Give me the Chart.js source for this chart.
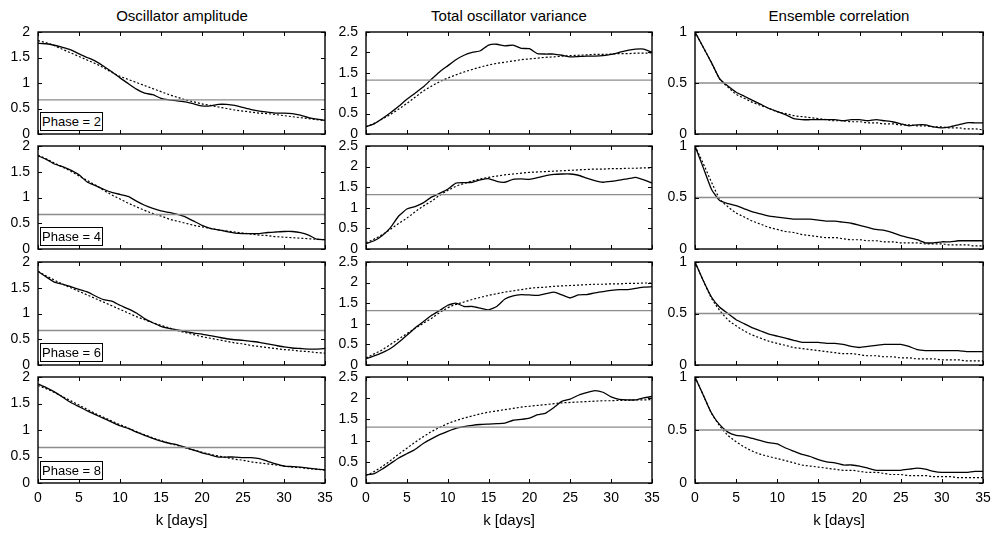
<!DOCTYPE html>
<html lang="en">
<head>
<meta charset="UTF-8">
<title>Oscillator statistics vs lag</title>
<script src="https://cdn.jsdelivr.net/npm/chart.js"></script>
<style>
  body { margin: 0; background: #fff; font-family: 'Liberation Sans', Arial, sans-serif; color: #000; }
  #page { position: relative; width: 1003px; height: 533px; overflow: hidden; }
  .panel { position: absolute; }
  .col-title { position: absolute; top: 7px; font-size: 15px; line-height: 18px; transform: translateX(-50%); white-space: nowrap; }
  .phase { position: absolute; width: 61px; height: 17px; border: 1px solid #000; background: #fff;
           font-size: 13px; line-height: 17px; text-align: center; z-index: 2; white-space: nowrap; }
</style>
</head>
<body>
<div id="page">
  <div class="col-title" style="left:182px">Oscillator amplitude</div>
  <div class="col-title" style="left:509px">Total oscillator variance</div>
  <div class="col-title" style="left:839px">Ensemble correlation</div>
</div>
<script>
// lag in days
const days = [0,1,2,3,4,5,6,7,8,9,10,11,12,13,14,15,16,17,18,19,20,21,22,23,24,25,26,27,28,29,30,31,32,33,34,35];
const phases = [2, 4, 6, 8];
const refLevels = [0.67, 1.32, 0.5];
const axisMax = [2, 2.5, 1];

// oscillator amplitude (solid = ensemble, dotted = model)
const ampSim2   = [1.78,1.77,1.74,1.70,1.65,1.57,1.50,1.43,1.33,1.22,1.10,0.99,0.88,0.80,0.77,0.70,0.67,0.65,0.63,0.59,0.55,0.55,0.58,0.58,0.56,0.52,0.48,0.45,0.43,0.41,0.41,0.40,0.37,0.32,0.29,0.27];
const ampModel2 = [1.83,1.79,1.73,1.66,1.59,1.52,1.45,1.38,1.30,1.21,1.13,1.07,1.01,0.95,0.89,0.83,0.77,0.72,0.67,0.63,0.59,0.56,0.53,0.50,0.47,0.45,0.43,0.41,0.40,0.38,0.36,0.34,0.32,0.30,0.28,0.26];
const ampSim4   = [1.81,1.74,1.65,1.60,1.53,1.44,1.30,1.23,1.16,1.10,1.06,1.02,0.93,0.85,0.79,0.74,0.71,0.67,0.62,0.54,0.46,0.40,0.37,0.34,0.31,0.30,0.30,0.30,0.32,0.33,0.34,0.34,0.32,0.27,0.19,0.18];
const ampModel4 = [1.82,1.75,1.67,1.59,1.51,1.42,1.33,1.24,1.14,1.05,0.97,0.89,0.82,0.75,0.69,0.64,0.58,0.54,0.50,0.46,0.43,0.40,0.37,0.35,0.33,0.31,0.29,0.27,0.26,0.24,0.23,0.22,0.21,0.20,0.19,0.18];
const ampSim6   = [1.82,1.71,1.61,1.57,1.52,1.47,1.42,1.34,1.27,1.24,1.16,1.09,1.01,0.90,0.82,0.75,0.71,0.68,0.65,0.62,0.60,0.57,0.54,0.51,0.49,0.48,0.46,0.44,0.41,0.38,0.35,0.33,0.32,0.31,0.31,0.32];
const ampModel6 = [1.82,1.73,1.65,1.57,1.50,1.43,1.36,1.29,1.22,1.15,1.08,1.01,0.94,0.88,0.82,0.77,0.72,0.67,0.63,0.59,0.55,0.52,0.49,0.46,0.43,0.41,0.38,0.36,0.34,0.32,0.30,0.29,0.27,0.26,0.24,0.23];
const ampSim8   = [1.87,1.80,1.72,1.62,1.52,1.44,1.36,1.29,1.22,1.15,1.08,1.03,0.96,0.90,0.84,0.79,0.75,0.72,0.67,0.62,0.57,0.53,0.49,0.49,0.49,0.48,0.48,0.46,0.41,0.36,0.32,0.31,0.30,0.28,0.26,0.25];
const ampModel8 = [1.84,1.78,1.71,1.63,1.55,1.47,1.39,1.31,1.24,1.17,1.10,1.04,0.97,0.91,0.85,0.80,0.75,0.71,0.66,0.62,0.58,0.54,0.51,0.48,0.45,0.43,0.40,0.38,0.36,0.34,0.32,0.30,0.29,0.27,0.26,0.24];

// total oscillator variance
const varSim2   = [0.18,0.25,0.38,0.52,0.68,0.85,1.00,1.15,1.34,1.52,1.67,1.82,1.93,2.00,2.04,2.18,2.20,2.16,2.18,2.10,2.09,1.97,1.96,1.96,1.93,1.89,1.90,1.91,1.91,1.92,1.95,2.00,2.05,2.08,2.08,2.00];
const varModel2 = [0.18,0.26,0.37,0.48,0.61,0.75,0.90,1.05,1.17,1.28,1.37,1.45,1.52,1.58,1.64,1.69,1.73,1.76,1.79,1.82,1.84,1.86,1.88,1.89,1.91,1.92,1.93,1.94,1.95,1.95,1.96,1.97,1.97,1.98,1.98,1.99];
const varSim4   = [0.13,0.20,0.33,0.52,0.80,0.97,1.03,1.12,1.26,1.35,1.45,1.60,1.61,1.62,1.68,1.71,1.64,1.62,1.69,1.70,1.69,1.73,1.78,1.81,1.82,1.82,1.79,1.72,1.66,1.62,1.64,1.67,1.70,1.74,1.68,1.60];
const varModel4 = [0.15,0.24,0.35,0.48,0.62,0.75,0.90,1.04,1.16,1.30,1.42,1.52,1.59,1.65,1.70,1.74,1.77,1.80,1.82,1.84,1.86,1.87,1.88,1.89,1.90,1.91,1.92,1.93,1.94,1.94,1.95,1.95,1.96,1.96,1.97,1.97];
const varSim6   = [0.15,0.22,0.30,0.40,0.55,0.72,0.90,1.05,1.20,1.32,1.45,1.50,1.42,1.42,1.38,1.34,1.42,1.60,1.68,1.71,1.70,1.69,1.73,1.77,1.70,1.63,1.70,1.71,1.75,1.78,1.81,1.83,1.83,1.86,1.89,1.90];
const varModel6 = [0.17,0.27,0.37,0.50,0.63,0.76,0.89,1.01,1.13,1.27,1.39,1.47,1.53,1.59,1.64,1.69,1.73,1.77,1.80,1.83,1.86,1.88,1.89,1.91,1.92,1.93,1.94,1.95,1.96,1.96,1.97,1.97,1.98,1.98,1.99,1.99];
const varSim8   = [0.19,0.22,0.33,0.46,0.59,0.69,0.79,0.93,1.04,1.14,1.22,1.29,1.33,1.36,1.38,1.39,1.40,1.41,1.48,1.50,1.53,1.61,1.65,1.78,1.93,1.98,2.07,2.13,2.18,2.14,2.03,1.97,1.96,1.96,2.01,2.04];
const varModel8 = [0.18,0.27,0.39,0.53,0.68,0.82,0.96,1.09,1.21,1.31,1.40,1.47,1.53,1.58,1.63,1.67,1.70,1.73,1.76,1.79,1.81,1.83,1.85,1.87,1.89,1.90,1.91,1.92,1.93,1.94,1.94,1.95,1.95,1.96,1.96,1.97];

// ensemble correlation
const corSim2   = [1.00,0.85,0.70,0.54,0.47,0.41,0.37,0.33,0.29,0.25,0.22,0.19,0.15,0.14,0.14,0.14,0.14,0.14,0.13,0.14,0.14,0.13,0.14,0.13,0.12,0.10,0.08,0.09,0.09,0.07,0.06,0.07,0.09,0.11,0.11,0.11];
const corModel2 = [1.00,0.85,0.70,0.54,0.46,0.39,0.35,0.31,0.28,0.25,0.22,0.20,0.18,0.17,0.16,0.15,0.14,0.13,0.13,0.12,0.12,0.11,0.11,0.10,0.10,0.09,0.09,0.08,0.08,0.07,0.07,0.06,0.06,0.05,0.05,0.04];
const corSim4   = [1.00,0.79,0.58,0.47,0.44,0.42,0.39,0.36,0.34,0.32,0.31,0.30,0.29,0.29,0.29,0.28,0.27,0.27,0.26,0.25,0.23,0.21,0.19,0.18,0.16,0.13,0.11,0.09,0.06,0.06,0.07,0.07,0.08,0.08,0.08,0.08];
const corModel4 = [1.00,0.83,0.65,0.49,0.41,0.35,0.31,0.27,0.24,0.21,0.19,0.17,0.16,0.14,0.13,0.12,0.11,0.11,0.10,0.09,0.09,0.08,0.08,0.07,0.07,0.06,0.06,0.06,0.05,0.05,0.05,0.04,0.04,0.04,0.03,0.03];
const corSim6   = [1.00,0.82,0.66,0.56,0.50,0.44,0.40,0.36,0.33,0.30,0.28,0.26,0.24,0.22,0.22,0.22,0.21,0.21,0.20,0.18,0.17,0.18,0.19,0.20,0.20,0.20,0.18,0.15,0.14,0.14,0.14,0.14,0.14,0.13,0.13,0.13];
const corModel6 = [1.00,0.82,0.65,0.53,0.44,0.38,0.33,0.29,0.26,0.23,0.21,0.19,0.17,0.16,0.15,0.14,0.13,0.12,0.11,0.11,0.10,0.09,0.09,0.08,0.08,0.07,0.07,0.06,0.06,0.06,0.05,0.05,0.05,0.04,0.04,0.04];
const corSim8   = [1.00,0.83,0.66,0.55,0.48,0.45,0.44,0.42,0.40,0.38,0.37,0.33,0.30,0.27,0.25,0.22,0.20,0.19,0.17,0.17,0.16,0.14,0.12,0.12,0.12,0.12,0.13,0.14,0.13,0.11,0.10,0.10,0.10,0.10,0.11,0.11];
const corModel8 = [1.00,0.83,0.66,0.54,0.45,0.39,0.34,0.30,0.27,0.25,0.23,0.21,0.19,0.17,0.16,0.15,0.14,0.13,0.12,0.12,0.11,0.10,0.10,0.09,0.08,0.08,0.07,0.07,0.07,0.06,0.06,0.06,0.05,0.05,0.05,0.05];

const columns = [
  { sim: [ampSim2, ampSim4, ampSim6, ampSim8], model: [ampModel2, ampModel4, ampModel6, ampModel8] },
  { sim: [varSim2, varSim4, varSim6, varSim8], model: [varModel2, varModel4, varModel6, varModel8] },
  { sim: [corSim2, corSim4, corSim6, corSim8], model: [corModel2, corModel4, corModel6, corModel8] }
];

// plot-area edges in page pixels
const plotLeft = [38, 366, 695], plotRight = [325, 652, 983];
const plotTop = [32, 146, 262, 377], plotBottom = [134, 249, 365, 483];
const Y_AXIS_W = 38, PAD_T = 10, PAD_R = 12, PAD_B = 10, X_AXIS_H = 50;

const FONT = "'Liberation Sans', Arial, sans-serif";

// gnuplot-like frame with inward ticks on all four sides
const frameTicks = {
  id: 'frameTicks',
  afterDatasetsDraw(chart) {
    const { ctx, chartArea: a, scales: { x, y } } = chart;
    ctx.save();
    ctx.strokeStyle = '#000';
    ctx.lineWidth = 1;
    ctx.beginPath();
    x.ticks.forEach(t => {
      const px = Math.round(x.getPixelForValue(t.value)) + 0.5;
      ctx.moveTo(px, a.bottom); ctx.lineTo(px, a.bottom - 4);
      ctx.moveTo(px, a.top); ctx.lineTo(px, a.top + 4);
    });
    y.ticks.forEach(t => {
      const py = Math.round(y.getPixelForValue(t.value)) + 0.5;
      ctx.moveTo(a.left, py); ctx.lineTo(a.left + 4, py);
      ctx.moveTo(a.right, py); ctx.lineTo(a.right - 4, py);
    });
    ctx.stroke();
    ctx.lineWidth = 1.4;
    ctx.strokeRect(a.left, a.top, a.right - a.left, a.bottom - a.top);
    ctx.restore();
  }
};

const toXY = arr => days.map((d, i) => ({ x: d, y: arr[i] }));
const page = document.getElementById('page');

columns.forEach((col, c) => {
  phases.forEach((ph, r) => {
    const last = r === phases.length - 1;
    const w = Y_AXIS_W + (plotRight[c] - plotLeft[c]) + PAD_R;
    const h = PAD_T + (plotBottom[r] - plotTop[r]) + (last ? X_AXIS_H : PAD_B);
    const div = document.createElement('div');
    div.className = 'panel';
    div.style.left = (plotLeft[c] - Y_AXIS_W) + 'px';
    div.style.top = (plotTop[r] - PAD_T) + 'px';
    div.style.width = w + 'px';
    div.style.height = h + 'px';
    const canvas = document.createElement('canvas');
    div.appendChild(canvas);
    page.appendChild(div);

    new Chart(canvas.getContext('2d'), {
      type: 'line',
      data: {
        datasets: [
          { data: [{ x: 0, y: refLevels[c] }, { x: 35, y: refLevels[c] }], borderColor: '#8c8c8c', borderWidth: 1.3 },
          { data: toXY(col.model[r]), borderColor: '#000', borderWidth: 1.2, borderDash: [2, 2], cubicInterpolationMode: 'monotone' },
          { data: toXY(col.sim[r]), borderColor: '#000', borderWidth: 1.3, tension: 0.15 }
        ]
      },
      options: {
        responsive: true,
        maintainAspectRatio: false,
        animation: false,
        events: [],
        layout: { padding: { left: 0, right: PAD_R, top: PAD_T, bottom: last ? 0 : PAD_B } },
        elements: { point: { radius: 0 } },
        plugins: { legend: { display: false }, tooltip: { enabled: false } },
        scales: {
          x: {
            type: 'linear', min: 0, max: 35,
            grid: { display: false, drawTicks: false },
            border: { display: false },
            ticks: { display: last, stepSize: 5, padding: 7, color: '#000', font: { family: FONT, size: 14 } },
            title: { display: last, text: 'k [days]', color: '#000', font: { family: FONT, size: 15 }, padding: { top: 0, bottom: 3 } },
            afterFit(s) { s.height = last ? X_AXIS_H : 0; s.paddingLeft = 0; s.paddingRight = 0; }
          },
          y: {
            min: 0, max: axisMax[c],
            grid: { display: false, drawTicks: false },
            border: { display: false },
            ticks: { stepSize: 0.5, padding: 8, color: '#000', font: { family: FONT, size: 14 },
                     callback: v => String(v) },
            afterFit(s) { s.width = Y_AXIS_W; s.paddingTop = 0; s.paddingBottom = 0; }
          }
        }
      },
      plugins: [frameTicks]
    });

    if (c === 0) {
      const box = document.createElement('div');
      box.className = 'phase';
      box.textContent = 'Phase = ' + ph;
      box.style.left = (plotLeft[0] + 2) + 'px';
      box.style.top = (plotBottom[r] - 22) + 'px';
      page.appendChild(box);
    }
  });
});
</script>
</body>
</html>
